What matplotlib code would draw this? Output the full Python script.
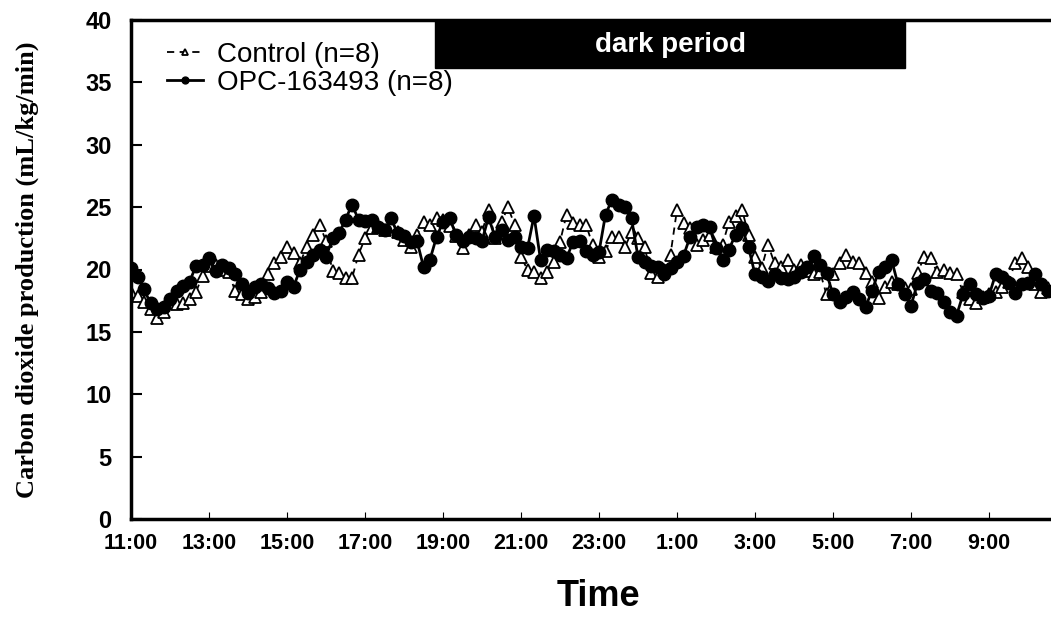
import numpy as np
import matplotlib
matplotlib.use("Agg")
import matplotlib.pyplot as plt
from matplotlib.patches import Rectangle

# CO2 production, 10-min bins starting at 11:00
opc = [20.1, 19.4, 18.4, 17.3, 16.8, 17.0, 17.6, 18.3, 18.7, 19.0,
       20.3, 20.4, 20.9, 19.9, 20.4, 20.1, 19.6, 18.8, 18.1, 18.6,
       18.8, 18.5, 18.1, 18.3, 19.0, 18.6, 20.0, 20.6, 21.2, 21.6,
       21.0, 22.5, 22.9, 24.0, 25.2, 24.0, 23.9, 24.0, 23.4, 23.2,
       24.1, 22.9, 22.7, 22.2, 22.3, 20.2, 20.8, 22.6, 23.8, 24.1,
       22.8, 22.3, 22.6, 22.5, 22.3, 24.2, 22.6, 23.2, 22.4, 22.6,
       21.8, 21.7, 24.3, 20.8, 21.6, 21.5, 21.2, 20.9, 22.2, 22.3,
       21.5, 21.2, 21.4, 24.4, 25.6, 25.2, 25.0, 24.1, 21.0, 20.6,
       20.3, 20.2, 19.6, 20.1, 20.6, 21.1, 22.6, 23.4, 23.6, 23.4,
       21.7, 20.8, 21.6, 22.8, 23.3, 21.8, 19.6, 19.4, 19.1, 19.6,
       19.3, 19.2, 19.4, 19.8, 20.2, 21.1, 20.4, 19.7, 18.0, 17.4,
       17.8, 18.2, 17.6, 17.0, 18.3, 19.8, 20.2, 20.8, 18.8, 18.0,
       17.1, 18.9, 19.2, 18.3, 18.1, 17.4, 16.6, 16.3, 18.0, 18.8,
       18.0, 17.7, 17.9, 19.6, 19.4, 18.9, 18.1, 18.8, 18.9, 19.6,
       18.8, 18.3]

control = [18.2, 17.9, 17.4, 16.8, 16.1, 16.6, 17.3, 17.2, 17.3, 17.6,
           18.2, 19.5, 20.3, 20.4, 20.0, 19.8, 18.3, 18.0, 17.6, 17.8,
           18.2, 19.6, 20.5, 21.0, 21.8, 21.3, 20.5, 21.8, 22.8, 23.6,
           22.3, 19.9, 19.7, 19.3, 19.3, 21.2, 22.5, 23.3, 23.4, 23.2,
           23.6, 23.0, 22.4, 21.8, 22.8, 23.8, 23.6, 24.1, 24.0, 23.5,
           22.7, 21.7, 22.8, 23.6, 23.0, 24.8, 22.5, 23.8, 25.0, 23.6,
           21.0, 20.0, 19.8, 19.3, 19.8, 20.6, 22.2, 24.4, 23.7, 23.6,
           23.6, 22.0, 21.0, 21.5, 22.6, 22.6, 21.8, 23.0, 22.5, 21.8,
           19.7, 19.4, 20.0, 21.2, 24.8, 23.7, 23.3, 22.0, 22.4, 22.8,
           21.8, 22.0, 23.8, 24.3, 24.8, 22.8, 21.0, 20.1, 22.0, 20.5,
           20.2, 20.8, 20.0, 20.4, 19.9, 19.6, 19.8, 18.0, 19.6, 20.5,
           21.2, 20.6, 20.5, 19.7, 19.0, 17.7, 18.6, 19.0, 18.8, 18.5,
           18.4, 19.7, 21.0, 20.9, 19.8, 20.0, 19.7, 19.6, 18.2, 17.6,
           17.3, 17.8, 18.0, 18.2, 18.6, 19.0, 20.5, 20.9, 20.2, 18.8,
           18.2, 18.5]

tick_labels = ["11:00", "13:00", "15:00", "17:00", "19:00", "21:00",
               "23:00", "1:00", "3:00", "5:00", "7:00", "9:00"]
dark_start, dark_end = 7.8, 19.85   # hours after 11:00

hours = np.arange(len(opc)) / 6.0

fig = plt.figure(figsize=(10.51, 6.38), dpi=100)
ax = fig.add_axes([131 / 1051, 1 - 519 / 638, 920 / 1051, 499 / 638])

ax.plot(hours, control, color="black", lw=1.3, ls=(0, (4, 3)),
        marker="^", ms=8, mfc="white", mec="black", mew=1.3,
        label="Control (n=8)")
ax.plot(hours, opc, color="black", lw=2, marker="o", ms=9,
        mfc="black", mec="black", label="OPC-163493 (n=8)")

ax.set_xlim(0, 920 / 39)
ax.set_ylim(0, 40)

ax.add_patch(Rectangle((dark_start, 36.15), dark_end - dark_start, 3.85,
                       facecolor="black", edgecolor="black", zorder=3))
ax.text((dark_start + dark_end) / 2, 38.0, "dark period", color="white",
        fontsize=20, fontweight="bold", family="Liberation Sans",
        ha="center", va="center", zorder=4)

ax.set_xticks(np.arange(0, 24, 2))
ax.set_xticklabels(tick_labels, fontsize=15.5, fontweight="bold",
                   family="Liberation Sans")
ax.set_yticks(np.arange(0, 41, 5))
ax.set_yticklabels([str(v) for v in range(0, 41, 5)], fontsize=17,
                   fontweight="bold", family="Liberation Sans")
ax.tick_params(axis="y", direction="in", length=8, width=1.5, pad=14)
ax.tick_params(axis="x", direction="in", length=5, width=0.8, pad=10)

for s in ["left", "bottom", "top"]:
    ax.spines[s].set_linewidth(2.5)
ax.spines["right"].set_visible(False)

ax.set_ylabel("Carbon dioxide production (mL/kg/min)", fontsize=19,
              fontweight="bold", family="Liberation Serif")
ax.yaxis.set_label_coords(-0.1, 0.5)
ax.set_xlabel("Time", fontsize=26, fontweight="bold",
              family="Liberation Sans")
ax.xaxis.set_label_coords(0.508, -0.12)

leg = ax.legend(loc="upper left", bbox_to_anchor=(0.012, 1.007),
                frameon=False, handlelength=1.3, markerscale=0.55,
                labelspacing=0.08, handletextpad=0.5,
                prop={"family": "Liberation Sans", "size": 20})

fig.savefig("out.png", dpi=100)
